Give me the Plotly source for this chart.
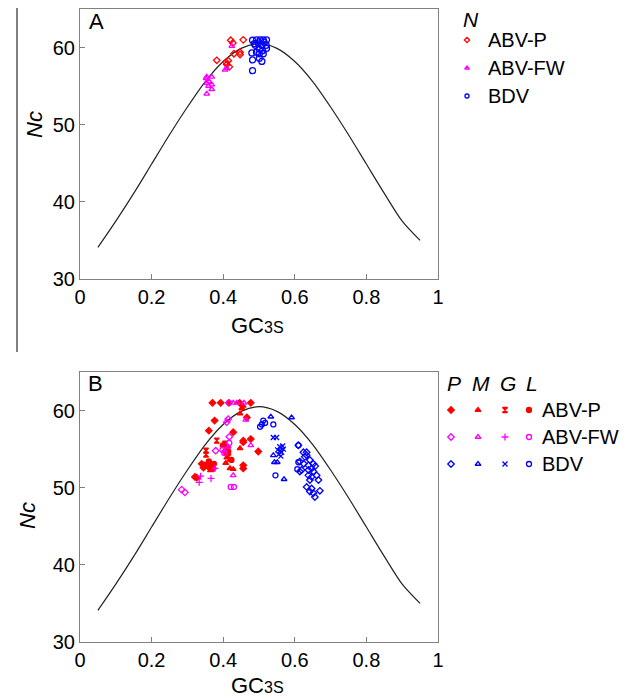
import plotly.graph_objects as go

# expected Nc curve
curve_x = [0.05, 0.10, 0.15, 0.20, 0.25, 0.30, 0.35, 0.40, 0.45, 0.50,
           0.55, 0.60, 0.65, 0.70, 0.75, 0.80, 0.85, 0.90, 0.95]
curve_y = [34.1, 37.5, 41.1, 44.9, 48.7, 52.3, 55.6, 58.2, 59.9, 60.5,
           59.9, 58.2, 55.6, 52.3, 48.7, 44.9, 41.1, 37.5, 35.0]

# panel A (N)
a_abvp_x = [0.421, 0.427, 0.456, 0.382, 0.430, 0.447, 0.447, 0.408, 0.414, 0.417, 0.410]
a_abvp_y = [60.95, 60.6, 61.0, 58.35, 59.2, 59.4, 59.1, 58.1, 58.3, 57.5, 57.8]
a_abvfw_x = [0.424, 0.405, 0.410, 0.354, 0.368, 0.354, 0.361, 0.368, 0.368, 0.354, 0.352, 0.359]
a_abvfw_y = [60.2, 57.1, 57.3, 56.2, 56.2, 55.4, 55.6, 55.2, 54.6, 54.0, 56.0, 55.0]
a_bdv_x = [0.482, 0.493, 0.503, 0.512, 0.521, 0.487, 0.498, 0.514, 0.508, 0.520, 0.521,
           0.501, 0.510, 0.493, 0.501, 0.480, 0.482, 0.501, 0.508, 0.482, 0.490, 0.512]
a_bdv_y = [60.95, 61.0, 61.0, 61.0, 61.0, 60.5, 60.6, 60.7, 60.3, 60.3, 59.9,
           59.8, 59.6, 59.4, 59.2, 59.3, 58.4, 58.6, 58.2, 57.0, 60.3, 59.2]

# panel B, ABV-P
b_p_p_x = [0.370, 0.393, 0.416, 0.477, 0.446, 0.376, 0.360, 0.428, 0.466, 0.456, 0.456, 0.477, 0.498,
           0.456, 0.456, 0.340, 0.349, 0.359, 0.368, 0.345, 0.321, 0.326, 0.372, 0.410, 0.405, 0.412]
b_p_p_y = [61.0, 61.0, 61.0, 61.0, 61.0, 58.7, 57.4, 57.2, 59.1, 56.1, 55.9, 56.3, 54.7,
           52.9, 52.5, 53.1, 52.9, 52.7, 52.9, 52.6, 51.4, 51.3, 52.5, 55.3, 54.7, 54.3]
b_p_m_x = [0.447, 0.452, 0.456, 0.447, 0.419, 0.419, 0.428, 0.410, 0.407]
b_p_m_y = [59.6, 60.3, 60.6, 55.1, 53.6, 52.5, 52.4, 53.9, 53.2]
b_p_g_x = [0.382, 0.352, 0.352, 0.405, 0.408, 0.363]
b_p_g_y = [56.1, 54.8, 54.3, 55.7, 54.9, 52.4]
b_p_l_x = [0.399, 0.414, 0.423, 0.360, 0.374]
b_p_l_y = [55.5, 54.7, 53.6, 53.4, 53.1]

# panel B, ABV-FW
b_fw_p_x = [0.410, 0.414, 0.379, 0.417, 0.284, 0.293]
b_fw_p_y = [58.5, 58.9, 54.8, 56.6, 49.75, 49.4]
b_fw_m_x = [0.438, 0.428, 0.458, 0.463, 0.477, 0.428, 0.414]
b_fw_m_y = [61.0, 61.0, 61.0, 58.8, 55.5, 51.6, 55.3]
b_fw_g_x = [0.337, 0.333, 0.366, 0.377]
b_fw_g_y = [51.5, 50.7, 51.2, 52.5]
b_fw_l_x = [0.421, 0.430, 0.416, 0.398, 0.403, 0.417]
b_fw_l_y = [50.1, 50.1, 61.0, 54.9, 54.5, 55.8]

# panel B, BDV
b_bdv_p_x = [0.610, 0.624, 0.633, 0.628, 0.642, 0.614, 0.619, 0.614, 0.638, 0.647, 0.652, 0.657, 0.638,
             0.647, 0.661, 0.666, 0.642, 0.633, 0.647, 0.642, 0.652, 0.656, 0.670, 0.633, 0.652, 0.625, 0.638]
b_bdv_p_y = [55.5, 54.6, 54.6, 54.0, 53.6, 53.4, 52.3, 52.1, 52.3, 52.5, 52.1, 52.8, 51.6,
             51.4, 51.6, 51.0, 51.0, 50.1, 49.9, 49.5, 49.3, 48.8, 49.6, 54.2, 53.1, 53.1, 52.9]
b_bdv_m_x = [0.533, 0.591, 0.540, 0.543, 0.551, 0.570]
b_bdv_m_y = [59.2, 59.1, 54.2, 53.3, 53.3, 51.1]
b_bdv_g_x = [0.552, 0.558, 0.563, 0.568, 0.555, 0.561, 0.566, 0.559, 0.540, 0.549]
b_bdv_g_y = [54.9, 55.3, 54.6, 55.0, 54.3, 54.1, 55.4, 54.8, 56.5, 56.5]
b_bdv_l_x = [0.512, 0.508, 0.503, 0.517, 0.540, 0.546, 0.610, 0.610, 0.607]
b_bdv_l_y = [58.7, 58.2, 57.9, 58.4, 58.2, 51.6, 55.5, 53.3, 52.4]

groups = ["ABV-P", "ABV-FW", "BDV"]
colors = ["#ff0000", "#ff00ff", "#0000ff"]

# the page body adds an 8px margin, so the figure is made smaller and
# positions below are given in window pixels
OFF = 8
W, H = 632 - OFF, 699 - OFF
FONT = "Liberation Sans, Arial, sans-serif"

fig = go.Figure()

def pts(x, y, color, symbol, xa, ya, size=6):
    fig.add_trace(go.Scatter(x=x, y=y, mode="markers", xaxis=xa, yaxis=ya,
                             marker=dict(color=color, symbol=symbol, size=size,
                                         line=dict(color=color, width=1.3)),
                             showlegend=False, cliponaxis=False))

# curves
for xa, ya in [("x", "y"), ("x2", "y2")]:
    fig.add_trace(go.Scatter(x=curve_x, y=curve_y, mode="lines", xaxis=xa, yaxis=ya,
                             line=dict(color="#222222", width=1.2, shape="spline", smoothing=0.8),
                             showlegend=False))

# panel A
pts(a_abvp_x, a_abvp_y, colors[0], "diamond-open", "x", "y", 5)
pts(a_abvfw_x, a_abvfw_y, colors[1], "triangle-up-open", "x", "y", 5)
pts(a_bdv_x, a_bdv_y, colors[2], "circle-open", "x", "y", 6)

# panel B
b_data = [
    [(b_p_p_x, b_p_p_y), (b_p_m_x, b_p_m_y), (b_p_g_x, b_p_g_y), (b_p_l_x, b_p_l_y)],
    [(b_fw_p_x, b_fw_p_y), (b_fw_m_x, b_fw_m_y), (b_fw_g_x, b_fw_g_y), (b_fw_l_x, b_fw_l_y)],
    [(b_bdv_p_x, b_bdv_p_y), (b_bdv_m_x, b_bdv_m_y), (b_bdv_g_x, b_bdv_g_y), (b_bdv_l_x, b_bdv_l_y)],
]
b_symbols = [
    ["diamond", "triangle-up", "hourglass", "circle"],
    ["diamond-open", "triangle-up-open", "cross-thin-open", "circle-open"],
    ["diamond-open", "triangle-up-open", "x-thin-open", "circle-open"],
]
for gi in range(3):
    for ci in range(4):
        x, y = b_data[gi][ci]
        pts(x, y, colors[gi], b_symbols[gi][ci], "x2", "y2", 5)

# legend keys on an overlay axis in window pixels
a_sym = ["diamond-open", "triangle-up-open", "circle-open"]
a_rows = [40, 68, 96]
b_rows = [410, 437, 464]
b_cols = [451, 478, 505, 529]
for gi in range(3):
    pts([467], [a_rows[gi]], colors[gi], a_sym[gi], "x3", "y3", 4)
    for ci in range(4):
        pts([b_cols[ci]], [b_rows[gi]], colors[gi], b_symbols[gi][ci], "x3", "y3", 5)

def px(v):
    return (v - OFF) / W

def py(v):
    return 1 - (v - OFF) / H

ann = []
def text(x, y, s, size=19, xanchor="left", italic=False, angle=0):
    if italic:
        s = "<i>" + s + "</i>"
    ann.append(dict(x=px(x), y=py(y), xref="paper", yref="paper", text=s, showarrow=False,
                    xanchor=xanchor, yanchor="middle", textangle=angle,
                    font=dict(family=FONT, size=size, color="black")))

for gi in range(3):
    text(486, a_rows[gi], groups[gi], 20)
    text(540, b_rows[gi], groups[gi], 20)
text(461, 20, "N", 21, italic=True)
for c, s in zip(b_cols, ["P", "M", "G", "L"]):
    text(c + 3, 383, s, 21, xanchor="center", italic=True)
text(87, 21, "A", 22)
text(86, 383, "B", 22)
gc = "GC<span style='font-size:16px'>3S</span>"
text(257, 325, gc, 22, xanchor="center")
text(257, 685, gc, 22, xanchor="center")
text(35, 125, "Nc", 22, xanchor="center", italic=True, angle=-90)
text(27, 516, "Nc", 22, xanchor="center", italic=True, angle=-90)

xdom = [px(80), px(438)]
axis_common = dict(showline=True, mirror=True, linecolor="#808080", linewidth=1.2,
                   ticks="inside", ticklen=5, tickcolor="#808080", showgrid=False,
                   zeroline=False, automargin=False,
                   tickfont=dict(family=FONT, size=20, color="black"))
xt = dict(tickvals=[0, 0.2, 0.4, 0.6, 0.8, 1], ticktext=["0", "0.2", "0.4", "0.6", "0.8", "1"],
          range=[0, 1])
yt = dict(tickvals=[30, 40, 50, 60], range=[30, 65])

fig.update_layout(
    width=W, height=H, margin=dict(l=0, r=0, t=0, b=0),
    paper_bgcolor="white", plot_bgcolor="rgba(0,0,0,0)",
    xaxis=dict(domain=xdom, anchor="y", **xt, **axis_common),
    yaxis=dict(domain=[py(279), py(9)], anchor="x", **yt, **axis_common),
    xaxis2=dict(domain=xdom, anchor="y2", **xt, **axis_common),
    yaxis2=dict(domain=[py(642), py(372)], anchor="x2", **yt, **axis_common),
    xaxis3=dict(domain=[0, 1], anchor="y3", range=[OFF, 632], visible=False, automargin=False),
    yaxis3=dict(domain=[0, 1], anchor="x3", range=[699, OFF], visible=False, automargin=False),
    annotations=ann,
    shapes=[dict(type="line", xref="paper", yref="paper", x0=px(17), x1=px(17), y0=1, y1=py(352),
                 line=dict(color="#808080", width=2))],
    showlegend=False,
)

fig.write_html("out.html")
